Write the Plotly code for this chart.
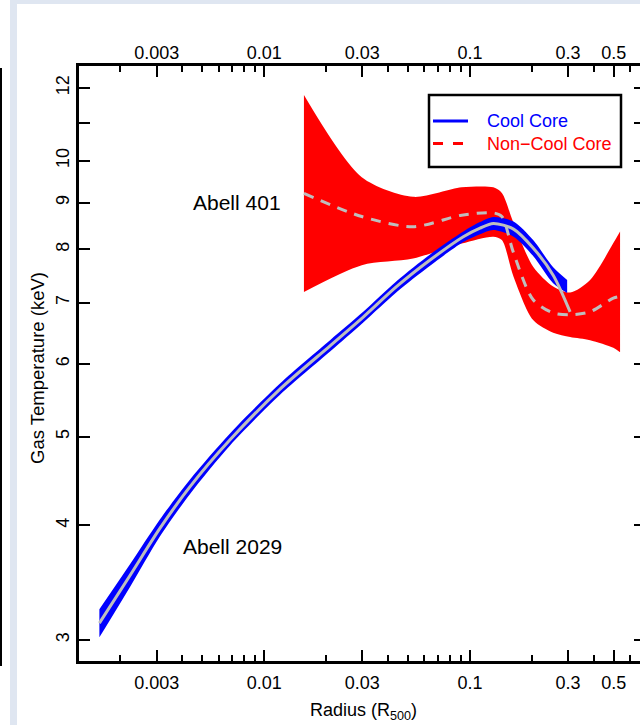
import plotly.graph_objects as go

# ---------------- data ----------------
# Abell 2029 (Cool Core): confidence band and central profile
blue_band_r = [0.00158, 0.00223, 0.00311, 0.00436, 0.00682, 0.0119, 0.0209, 0.0303,
               0.0441, 0.0640, 0.0929, 0.112, 0.130, 0.163, 0.203, 0.254, 0.297]
blue_lo = [3.02, 3.43, 3.89, 4.33, 4.89, 5.55, 6.19, 6.66, 7.19, 7.68, 8.15, 8.31,
           8.40, 8.26, 7.87, 7.35, 7.17]
blue_hi = [3.24, 3.63, 4.06, 4.49, 5.04, 5.71, 6.37, 6.84, 7.39, 7.90, 8.37, 8.57,
           8.68, 8.58, 8.19, 7.65, 7.41]
blue_r = [0.00158, 0.00223, 0.00311, 0.00436, 0.00682, 0.0119, 0.0209, 0.0303,
          0.0441, 0.0640, 0.0929, 0.112, 0.130, 0.163, 0.203, 0.254, 0.307]
blue_T = [3.13, 3.53, 3.97, 4.41, 4.96, 5.63, 6.28, 6.75, 7.29, 7.79, 8.26, 8.44,
          8.54, 8.42, 8.03, 7.50, 6.84]

# Abell 401 (Non-Cool Core)
red_r = [0.0156, 0.0298, 0.0529, 0.0912, 0.130, 0.143, 0.163, 0.203, 0.254, 0.307,
         0.384, 0.498, 0.537]
red_hi = [11.79, 9.59, 9.13, 9.35, 9.35, 9.22, 8.55, 7.66, 7.29, 7.18, 7.41, 8.13, 8.37]
red_T = [9.21, 8.69, 8.47, 8.72, 8.77, 8.69, 7.93, 7.05, 6.82, 6.79, 6.84, 7.08, 7.11]
red_lo = [7.19, 7.69, 7.82, 8.12, 8.26, 8.19, 7.47, 6.70, 6.49, 6.42, 6.37, 6.25, 6.18]

# axis ticks
x_major = [0.003, 0.01, 0.03, 0.1, 0.3, 0.5]
x_major_text = ["0.003", "0.01", "0.03", "0.1", "0.3", "0.5"]
x_minor = [0.002, 0.004, 0.005, 0.006, 0.007, 0.008, 0.009,
           0.02, 0.04, 0.05, 0.06, 0.07, 0.08, 0.09, 0.2, 0.4, 0.6]
y_ticks = [3, 4, 5, 6, 7, 8, 9, 10, 12]
y_tick_text = ["3", "4", "5", "6", "7", "8", "9", "10", "12"]
y_unlabeled = [11]

labels = ["Abell 401", "Abell 2029"]
legend_names = ["Cool Core", "Non\u2212Cool Core"]

# ---------------- styles ----------------
FONT = "Liberation Sans, Arial, Helvetica, sans-serif"
BLUE = "#0000FF"
RED = "#FF0000"
GRAY = "#BEBEBE"
W, H = 640, 725
L, R, T, B = 79, 0, 66, 64
PW, PH = W - L - R, H - T - B


def px_x(p):
    return (p - L) / PW


def px_y(p):
    return (H - B - p) / PH


SPL = dict(shape="spline", smoothing=0.8)
fig = go.Figure()

# red band
fig.add_trace(go.Scatter(x=red_r, y=red_lo, mode="lines", line=dict(width=0, **SPL),
                         showlegend=False, hoverinfo="skip"))
fig.add_trace(go.Scatter(x=red_r, y=red_hi, mode="lines", line=dict(width=0, **SPL),
                         fill="tonexty", fillcolor=RED, showlegend=False, hoverinfo="skip"))
# blue band
fig.add_trace(go.Scatter(x=blue_band_r, y=blue_lo, mode="lines", line=dict(width=0, **SPL),
                         showlegend=False, hoverinfo="skip"))
fig.add_trace(go.Scatter(x=blue_band_r, y=blue_hi, mode="lines", line=dict(width=0, **SPL),
                         fill="tonexty", fillcolor=BLUE, showlegend=False, hoverinfo="skip"))
# central profiles
fig.add_trace(go.Scatter(x=blue_r, y=blue_T, mode="lines",
                         line=dict(color=GRAY, width=3, **SPL),
                         showlegend=False, hoverinfo="skip"))
fig.add_trace(go.Scatter(x=red_r, y=red_T, mode="lines",
                         line=dict(color=GRAY, width=3, dash="10px,8px", **SPL),
                         showlegend=False, hoverinfo="skip"))
# dummy trace for top/right axes
fig.add_trace(go.Scatter(x=[None], y=[None], xaxis="x2", yaxis="y2", showlegend=False, hoverinfo="skip"))

tickfont = dict(family=FONT, size=18, color="black")
common_x = dict(type="log", range=[-2.9004, -0.1731], tickmode="array", tickvals=x_major,
                ticktext=x_major_text, ticks="inside", ticklen=11, tickwidth=1.5, tickcolor="black",
                minor=dict(tickmode="array", tickvals=x_minor, ticks="inside", ticklen=6,
                           tickwidth=1.5, tickcolor="black", showgrid=False),
                showgrid=False, zeroline=False, showline=True, linecolor="black", linewidth=2.5,
                tickfont=tickfont)
common_y = dict(type="log", range=[0.4542, 1.1032], tickmode="array", tickvals=y_ticks,
                ticktext=y_tick_text, ticks="inside", tickwidth=1.5, tickcolor="black",
                showgrid=False, zeroline=False, tickfont=tickfont)

fig.update_layout(
    width=W, height=H,
    margin=dict(l=L, r=R, t=T, b=B),
    paper_bgcolor="white", plot_bgcolor="white",
    showlegend=False,
    xaxis=dict(**common_x, anchor="y", side="bottom", ticklabelstandoff=4),
    xaxis2=dict(**common_x, anchor="y", side="top", overlaying="x", ticklabelstandoff=-3),
    yaxis=dict(**common_y, ticklen=11, tickangle=-90, anchor="x",
               minor=dict(tickmode="array", tickvals=y_unlabeled, ticks="inside", ticklen=11,
                          tickwidth=1.5, tickcolor="black", showgrid=False),
               showline=True, linecolor="black", linewidth=2.5, ticklabelstandoff=0),
    yaxis2=dict(**common_y, ticklen=6, side="right", overlaying="y", anchor="x",
                minor=dict(tickmode="array", tickvals=y_unlabeled, ticks="inside", ticklen=6,
                           tickwidth=1.5, tickcolor="black", showgrid=False),
                showticklabels=False, showline=False),
)

# axis titles
fig.add_annotation(text="Radius (R<sub>500</sub>)", xref="paper", yref="paper",
                   x=px_x(363), y=px_y(711), showarrow=False, xanchor="center", yanchor="middle",
                   font=dict(family=FONT, size=18, color="black"))
fig.add_annotation(text="Gas Temperature (keV)", xref="paper", yref="paper",
                   x=px_x(37), y=px_y(368), showarrow=False, textangle=-90,
                   xanchor="center", yanchor="middle", font=dict(family=FONT, size=18.5, color="black"))

# cluster labels
fig.add_annotation(text=labels[0], xref="paper", yref="paper", x=px_x(237), y=px_y(203),
                   showarrow=False, xanchor="center", yanchor="middle",
                   font=dict(family=FONT, size=21, color="black"))
fig.add_annotation(text=labels[1], xref="paper", yref="paper", x=px_x(232), y=px_y(546),
                   showarrow=False, xanchor="center", yanchor="middle",
                   font=dict(family=FONT, size=21, color="black"))

# legend (box, samples, texts)
shapes = [
    dict(type="rect", xref="paper", yref="paper", x0=px_x(429), x1=px_x(621), y0=px_y(167), y1=px_y(95),
         line=dict(color="black", width=2.5), fillcolor="white", layer="above"),
    dict(type="line", xref="paper", yref="paper", x0=px_x(433), x1=px_x(468), y0=px_y(121), y1=px_y(121),
         line=dict(color=BLUE, width=3), layer="above"),
    dict(type="line", xref="paper", yref="paper", x0=px_x(433), x1=px_x(468), y0=px_y(143.5), y1=px_y(143.5),
         line=dict(color=RED, width=3, dash="10px,10px"), layer="above"),
    # page frame decorations
    dict(type="rect", xref="paper", yref="paper", x0=px_x(10), x1=px_x(17), y0=px_y(725), y1=px_y(0),
         line=dict(width=0), fillcolor="#dfe6f1", layer="above"),
    dict(type="rect", xref="paper", yref="paper", x0=px_x(10), x1=px_x(640), y0=px_y(4), y1=px_y(0),
         line=dict(width=0), fillcolor="#dfe6f1", layer="above"),
    dict(type="line", xref="paper", yref="paper", x0=px_x(1), x1=px_x(1), y0=px_y(666), y1=px_y(68),
         line=dict(color="black", width=2), layer="above"),
]
fig.update_layout(shapes=shapes)
fig.add_annotation(text=legend_names[0], xref="paper", yref="paper", x=px_x(485), y=px_y(121),
                   showarrow=False, xanchor="left", yanchor="middle",
                   font=dict(family=FONT, size=18, color=BLUE))
fig.add_annotation(text=legend_names[1], xref="paper", yref="paper", x=px_x(485), y=px_y(143.5),
                   showarrow=False, xanchor="left", yanchor="middle",
                   font=dict(family=FONT, size=18, color=RED))

fig.write_html("out.html")
